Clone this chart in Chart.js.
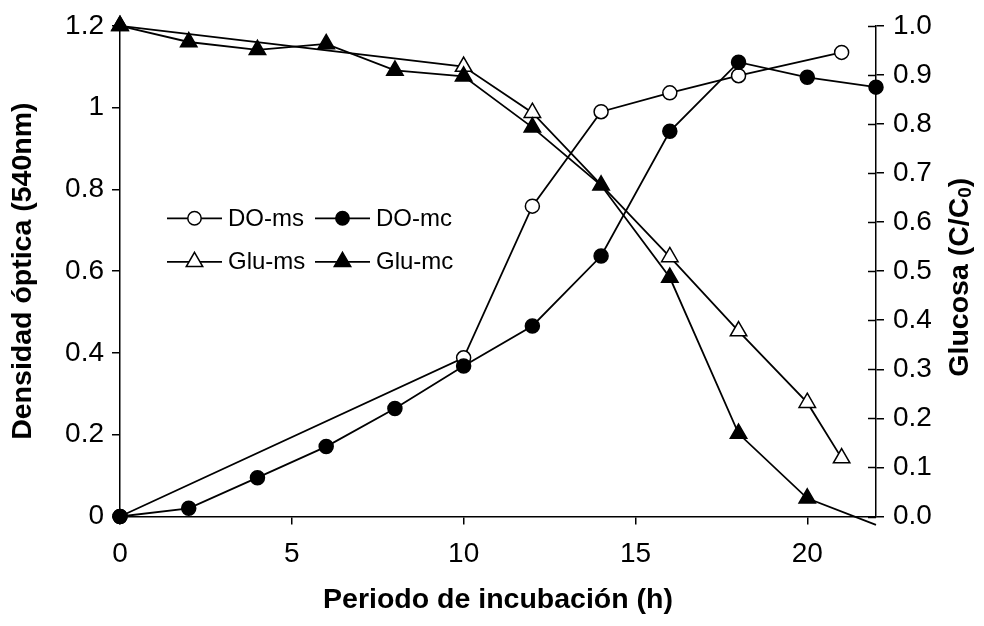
<!DOCTYPE html>
<html>
<head>
<meta charset="utf-8">
<title>Densidad óptica y glucosa</title>
<script src="https://cdn.jsdelivr.net/npm/chart.js@4.4.1/dist/chart.umd.min.js"></script>
<style>
  html, body { margin: 0; padding: 0; background: #fff; }
  #wrap { width: 984px; height: 626px; }
</style>
</head>
<body>
<div id="wrap"><canvas id="c" width="984" height="626"></canvas></div>
<script>
// Incubation time (h) at which each series was sampled
const hoursDOms  = [0, 10, 12, 14, 16, 18, 21];
const hoursDOmc  = [0, 2, 4, 6, 8, 10, 12, 14, 16, 18, 20, 22];
const hoursGluMs = [0, 10, 12, 16, 18, 20, 21];
const hoursGluMc = [0, 2, 4, 6, 8, 10, 12, 14, 16, 18, 20, 22];

// Optical density at 540 nm (left axis)
const doMs = [0, 0.388, 0.759, 0.990, 1.036, 1.078, 1.135];
const doMc = [0, 0.020, 0.095, 0.171, 0.264, 0.368, 0.466, 0.637, 0.942, 1.111, 1.074, 1.050];

// Relative glucose concentration C/C0 (right axis)
const gluMs = [1.0, 0.917, 0.823, 0.529, 0.378, 0.232, 0.119];
const gluMc = [1.0, 0.967, 0.951, 0.963, 0.909, 0.897, 0.793, 0.675, 0.487, 0.169, 0.037, -0.017];

const seriesNames = ['DO-ms', 'DO-mc', 'Glu-ms', 'Glu-mc'];

const xTickLabels     = ['0', '5', '10', '15', '20'];
const leftTickLabels  = ['0', '0.2', '0.4', '0.6', '0.8', '1', '1.2'];
const rightTickLabels = ['0.0', '0.1', '0.2', '0.3', '0.4', '0.5', '0.6', '0.7', '0.8', '0.9', '1.0'];

const xTitle = 'Periodo de incubación (h)';
const leftTitle = 'Densidad óptica (540nm)';

const FONT = '"Liberation Sans", Arial, Helvetica, sans-serif';
const BLACK = '#000';
const TICK_SIZE = 28;
const TITLE_SIZE = 28.5;

const pairs = (xs, ys) => xs.map((x, i) => ({ x: x, y: ys[i] }));

function series(name, xs, ys, axis, style, filled, order) {
  return {
    label: name,
    data: pairs(xs, ys),
    yAxisID: axis,
    borderColor: BLACK,
    borderWidth: 1.8,
    backgroundColor: filled ? BLACK : '#fff',
    pointStyle: style,
    // a reading below the axis floor keeps its line but shows no marker
    pointRadius: ctx => (ctx.raw && ctx.raw.y < 0) ? 0 : (style === 'circle' ? 7 : 9.5),
    pointBorderWidth: 1.5,
    pointBorderColor: BLACK,
    pointBackgroundColor: filled ? BLACK : '#fff',
    tension: 0,
    fill: false,
    clip: false,
    order: order
  };
}

// Legend drawn inside the plot area, two rows by two columns
const innerLegend = {
  id: 'innerLegend',
  afterDatasetsDraw(chart) {
    const { ctx, chartArea } = chart;
    const cols = [chartArea.left + 47, chartArea.left + 195];
    const rows = [chartArea.top + 192.5, chartArea.top + 236];
    const lineLen = 55;
    ctx.save();
    chart.data.datasets.forEach((ds, i) => {
      const x0 = cols[i % 2];
      const y = rows[Math.floor(i / 2)];
      ctx.strokeStyle = BLACK;
      ctx.lineWidth = 1.8;
      ctx.beginPath();
      ctx.moveTo(x0, y);
      ctx.lineTo(x0 + lineLen, y);
      ctx.stroke();
      ctx.fillStyle = ds.pointBackgroundColor;
      ctx.strokeStyle = BLACK;
      ctx.lineWidth = 1.5;
      Chart.helpers.drawPoint(ctx, {
        pointStyle: ds.pointStyle,
        radius: ds.pointStyle === 'circle' ? 6.7 : 9.5,
        rotation: 0,
        borderWidth: 1.5
      }, x0 + lineLen / 2, y);
      ctx.fillStyle = BLACK;
      ctx.font = '24px ' + FONT;
      ctx.textAlign = 'left';
      ctx.textBaseline = 'middle';
      ctx.fillText(ds.label, x0 + lineLen + 6, y + 1);
    });
    ctx.restore();
  }
};

// Right axis: tick marks crossing the axis line, and a title with subscript
const rightAxisExtras = {
  id: 'rightAxisExtras',
  afterDraw(chart) {
    const { ctx, chartArea } = chart;
    const s = chart.scales.y1;
    ctx.save();
    ctx.strokeStyle = BLACK;
    ctx.lineWidth = 1.5;
    s.ticks.forEach(t => {
      const y = Math.round(s.getPixelForValue(t.value)) + 0.5;
      ctx.beginPath();
      ctx.moveTo(s.left, y);
      ctx.lineTo(s.left - 8, y);
      ctx.stroke();
    });
    ctx.restore();

    const main = 'bold ' + TITLE_SIZE + 'px ' + FONT;
    const sub = 'bold 19px ' + FONT;
    const parts = [
      { t: 'Glucosa (C/C', f: main, dy: 0 },
      { t: '0', f: sub, dy: 6 },
      { t: ')', f: main, dy: 0 }
    ];
    ctx.save();
    ctx.fillStyle = BLACK;
    ctx.textBaseline = 'middle';
    ctx.textAlign = 'left';
    let total = 0;
    parts.forEach(p => { ctx.font = p.f; p.w = ctx.measureText(p.t).width; total += p.w; });
    ctx.translate(chartArea.right + 84, (chartArea.top + chartArea.bottom) / 2 + 6);
    ctx.rotate(-Math.PI / 2);
    let x = -total / 2;
    parts.forEach(p => { ctx.font = p.f; ctx.fillText(p.t, x, p.dy); x += p.w; });
    ctx.restore();
  }
};

const tickGrid = {
  display: true,
  drawOnChartArea: false,
  drawTicks: true,
  tickLength: 8,
  color: BLACK,
  lineWidth: 1.5
};
const axisBorder = { display: true, color: BLACK, width: 1.5 };

new Chart(document.getElementById('c'), {
  type: 'line',
  data: {
    datasets: [
      series(seriesNames[0], hoursDOms,  doMs,  'y',  'circle',   false, 4),
      series(seriesNames[1], hoursDOmc,  doMc,  'y',  'circle',   true,  3),
      series(seriesNames[2], hoursGluMs, gluMs, 'y1', 'triangle', false, 2),
      series(seriesNames[3], hoursGluMc, gluMc, 'y1', 'triangle', true,  1)
    ]
  },
  options: {
    responsive: false,
    animation: false,
    devicePixelRatio: 1,
    layout: { padding: { top: 21, left: 0, right: 0, bottom: 0 } },
    plugins: { legend: { display: false }, tooltip: { enabled: false } },
    scales: {
      x: {
        type: 'linear',
        min: 0, max: 22,
        grid: tickGrid,
        border: axisBorder,
        ticks: {
          stepSize: 5,
          includeBounds: false,
          color: BLACK,
          font: { family: FONT, size: TICK_SIZE },
          padding: 13,
          maxRotation: 0,
          callback: (v, i) => xTickLabels[i]
        },
        title: {
          display: true,
          text: xTitle,
          color: BLACK,
          font: { family: FONT, size: TITLE_SIZE, weight: 'bold' },
          padding: { top: 0, bottom: 9 }
        },
        afterFit: s => { s.height = 109.5; }
      },
      y: {
        type: 'linear',
        position: 'left',
        min: 0, max: 1.2,
        grid: tickGrid,
        border: axisBorder,
        ticks: {
          stepSize: 0.2,
          color: BLACK,
          font: { family: FONT, size: TICK_SIZE },
          padding: 8,
          callback: (v, i) => leftTickLabels[i]
        },
        title: {
          display: true,
          text: leftTitle,
          color: BLACK,
          font: { family: FONT, size: TITLE_SIZE, weight: 'bold' },
          padding: { top: 6, bottom: 0 }
        },
        afterFit: s => { s.width = 120; }
      },
      y1: {
        type: 'linear',
        position: 'right',
        min: 0, max: 1.0,
        grid: tickGrid,
        border: axisBorder,
        ticks: {
          stepSize: 0.1,
          color: BLACK,
          font: { family: FONT, size: TICK_SIZE },
          padding: 9,
          callback: (v, i) => rightTickLabels[i]
        },
        afterFit: s => { s.width = 108; }
      }
    }
  },
  plugins: [innerLegend, rightAxisExtras]
});
</script>
</body>
</html>
